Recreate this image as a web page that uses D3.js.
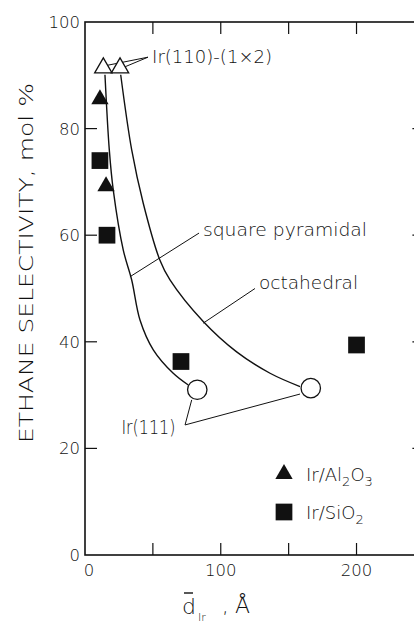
<!DOCTYPE html>
<html>
<head>
<meta charset="utf-8">
<script src="https://cdn.jsdelivr.net/npm/d3@7"></script>
<style>
  body { margin: 0; background: #fff; }
  svg text { font-family: "DejaVu Sans", sans-serif; font-weight: 300; fill: #111; }
</style>
</head>
<body>
<script>
// values (x = mean Ir particle size in Å, y = ethane selectivity mol %)
var alumina = [[11, 85.5], [15.5, 69.2]];
var silica = [[11, 74], [16.2, 60], [70.7, 36.3], [200, 39.4]];
var ir110 = [[13.5, 91.4], [25.8, 91.4]];
var ir111 = [[82.7, 31], [166.3, 31.3]];

var squarePyramidal = [[14.7, 90.1], [17.9, 76], [20.8, 68.5], [28.2, 57.2], [34.4, 51.6],
    [40.5, 44.1], [50.3, 38.5], [65, 34.1], [76.1, 31.9]];
var octahedral = [[26.3, 90.1], [34.4, 76], [42.9, 66], [55.2, 55.3], [62.6, 51.6],
    [87.1, 43.8], [111.7, 38.1], [136.3, 34.1], [158.4, 31.6]];

var xTicks = [50, 100, 150, 200];
var xTickLabels = [0, 100, 200];
var yTicks = [20, 40, 60, 80];
var yTickLabels = [0, 20, 40, 60, 80, 100];

// leader lines: [from, to]
var leaders = [
    [[46.4, 93.4], [16.9, 91.9]],
    [[46.4, 93.4], [29.5, 91.6]],
    [[33.1, 52.2], [84.0, 60.4]],
    [[87.1, 43.5], [125.2, 50.0]],
    [[73.7, 24.4], [78.6, 29.1]],
    [[73.7, 24.4], [158.4, 30.2]]
];

var W = 414, H = 623;
var x = d3.scaleLinear().domain([0, 250]).range([85, 424.4]);
var y = d3.scaleLinear().domain([0, 100]).range([555, 22]);

var svg = d3.select('body').append('svg')
    .attr('width', W).attr('height', H);

var g = svg.append('g');

// frame
g.append('rect')
    .attr('x', x(0)).attr('y', y(100))
    .attr('width', x(250) - x(0)).attr('height', y(0) - y(100))
    .attr('fill', 'none').attr('stroke', '#111').attr('stroke-width', 1.6);

// inward ticks on all four sides
var tickLen = 12;
g.selectAll('.xtb').data(xTicks).enter().append('line')
    .attr('x1', d => x(d)).attr('x2', d => x(d))
    .attr('y1', y(0)).attr('y2', y(0) - tickLen)
    .attr('stroke', '#111').attr('stroke-width', 1.2);
g.selectAll('.xtt').data(xTicks).enter().append('line')
    .attr('x1', d => x(d)).attr('x2', d => x(d))
    .attr('y1', y(100)).attr('y2', y(100) + tickLen)
    .attr('stroke', '#111').attr('stroke-width', 1.2);
g.selectAll('.ytl').data(yTicks).enter().append('line')
    .attr('x1', x(0)).attr('x2', x(0) + tickLen)
    .attr('y1', d => y(d)).attr('y2', d => y(d))
    .attr('stroke', '#111').attr('stroke-width', 1.2);
g.selectAll('.ytr').data(yTicks).enter().append('line')
    .attr('x1', x(250)).attr('x2', x(250) - tickLen)
    .attr('y1', d => y(d)).attr('y2', d => y(d))
    .attr('stroke', '#111').attr('stroke-width', 1.2);

// tick labels
g.selectAll('.ylab').data(yTickLabels).enter().append('text')
    .attr('x', 80).attr('y', d => y(d) + 6)
    .attr('text-anchor', 'end')
    .attr('font-size', 16.5)
    .text(d => d);
g.selectAll('.xlab').data(xTickLabels).enter().append('text')
    .attr('x', d => x(d) + (d === 0 ? 4 : 0)).attr('y', y(0) + 21)
    .attr('text-anchor', 'middle')
    .attr('font-size', 16.5)
    .text(d => d);

// axis titles
svg.append('text')
    .attr('transform', 'translate(33,263) rotate(-90)')
    .attr('text-anchor', 'middle')
    .attr('font-size', 20)
    .attr('textLength', 360).attr('lengthAdjust', 'spacingAndGlyphs')
    .text('ETHANE SELECTIVITY, mol %');

var xt = svg.append('g');
xt.append('text').attr('x', 182).attr('y', 614).attr('font-size', 22).text('d');
xt.append('line').attr('x1', 184).attr('x2', 193).attr('y1', 593).attr('y2', 593)
    .attr('stroke', '#111').attr('stroke-width', 1.4);
xt.append('text').attr('x', 198).attr('y', 621).attr('font-size', 11).text('Ir');
xt.append('text').attr('x', 222).attr('y', 613).attr('font-size', 21).text(',');
xt.append('text').attr('x', 235).attr('y', 613).attr('font-size', 22).text('Å');

// fitted curves
var line = d3.line().x(d => x(d[0])).y(d => y(d[1])).curve(d3.curveCatmullRom.alpha(0.5));
[squarePyramidal, octahedral].forEach(function(c) {
    g.append('path').attr('d', line(c))
        .attr('fill', 'none').attr('stroke', '#111').attr('stroke-width', 1.4);
});

// leader lines
g.selectAll('.leader').data(leaders).enter().append('line')
    .attr('x1', d => x(d[0][0])).attr('y1', d => y(d[0][1]))
    .attr('x2', d => x(d[1][0])).attr('y2', d => y(d[1][1]))
    .attr('stroke', '#111').attr('stroke-width', 1);

// annotations
g.append('text').attr('x', x(49.4)).attr('y', y(92.3)).attr('font-size', 18)
    .attr('textLength', 120).attr('lengthAdjust', 'spacingAndGlyphs')
    .text('Ir(110)-(1×2)');
g.append('text').attr('x', x(86.9)).attr('y', y(59.8)).attr('font-size', 18)
    .attr('textLength', 164).attr('lengthAdjust', 'spacingAndGlyphs')
    .text('square pyramidal');
g.append('text').attr('x', x(128.2)).attr('y', y(50)).attr('font-size', 18)
    .attr('textLength', 99).attr('lengthAdjust', 'spacingAndGlyphs')
    .text('octahedral');
g.append('text').attr('x', x(26.8)).attr('y', 434).attr('font-size', 19)
    .attr('textLength', 54).attr('lengthAdjust', 'spacingAndGlyphs')
    .text('Ir(111)');

// markers
var tri = d3.symbol().type(d3.symbolTriangle).size(130);
var sq = d3.symbol().type(d3.symbolSquare).size(280);

g.selectAll('.ir111').data(ir111).enter().append('circle')
    .attr('cx', d => x(d[0])).attr('cy', d => y(d[1])).attr('r', 9.7)
    .attr('fill', '#fff').attr('stroke', '#111').attr('stroke-width', 1.3);
g.selectAll('.ir110').data(ir110).enter().append('path')
    .attr('d', tri)
    .attr('transform', d => 'translate(' + x(d[0]) + ',' + y(d[1]) + ')')
    .attr('fill', '#fff').attr('stroke', '#111').attr('stroke-width', 1.3);
g.selectAll('.al').data(alumina).enter().append('path')
    .attr('d', tri)
    .attr('transform', d => 'translate(' + x(d[0]) + ',' + y(d[1]) + ')')
    .attr('fill', '#111');
g.selectAll('.si').data(silica).enter().append('path')
    .attr('d', sq)
    .attr('transform', d => 'translate(' + x(d[0]) + ',' + y(d[1]) + ')')
    .attr('fill', '#111');

// legend
var legend = svg.append('g');
legend.append('path').attr('d', tri).attr('transform', 'translate(284,474)').attr('fill', '#111');
legend.append('path').attr('d', sq).attr('transform', 'translate(284,512)').attr('fill', '#111');
var t1 = legend.append('text').attr('x', 306).attr('y', 481).attr('font-size', 18);
t1.append('tspan').text('Ir/Al');
t1.append('tspan').attr('font-size', 13).attr('dy', 5).text('2');
t1.append('tspan').attr('dy', -5).text('O');
t1.append('tspan').attr('font-size', 13).attr('dy', 5).text('3');
var t2 = legend.append('text').attr('x', 306).attr('y', 519).attr('font-size', 18);
t2.append('tspan').text('Ir/SiO');
t2.append('tspan').attr('font-size', 13).attr('dy', 5).text('2');
</script>
</body>
</html>
